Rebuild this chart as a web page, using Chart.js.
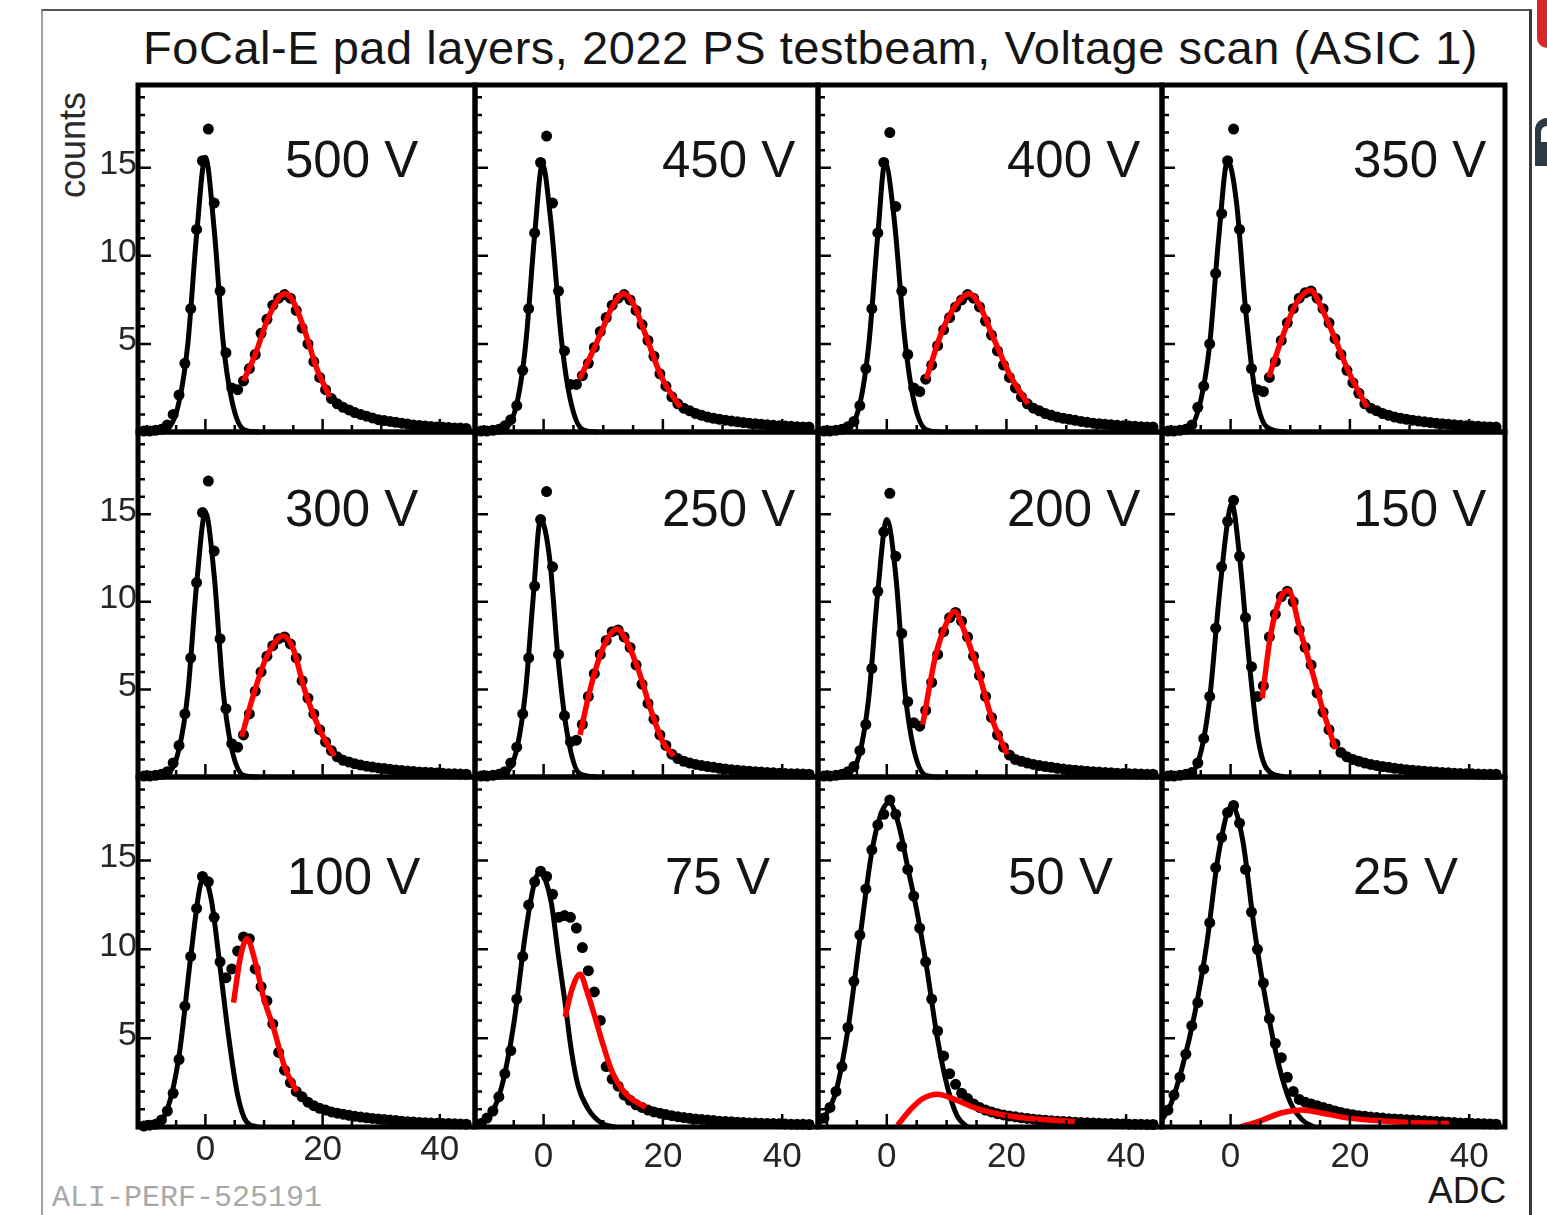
<!DOCTYPE html>
<html>
<head>
<meta charset="utf-8">
<script src="https://cdn.jsdelivr.net/npm/chart.js@4.4.1/dist/chart.umd.min.js"></script>
<style>
  html, body { margin: 0; padding: 0; background: #fff; }
  body { width: 1547px; height: 1215px; position: relative; overflow: hidden; font-family: "Liberation Sans", Arial, sans-serif; }
  canvas { position: absolute; }
  .frame { position: absolute; left: 41px; top: 9px; width: 1486px; height: 1230px;
           border-left: 2px solid #a0a0a0; border-top: 2px solid #555; border-right: 3px solid #3a3a3a; }
  #title { position: absolute; left: 143px; top: 24px; font-size: 47px; line-height: 47px; color: #151515; white-space: nowrap; }
  #ylab { position: absolute; left: 73px; top: 145px; font-size: 36px; line-height: 36px; color: #2a2a2a;
          transform: translate(-50%, -50%) rotate(-90deg); white-space: nowrap; }
  #xlab { position: absolute; left: 1428px; top: 1172px; font-size: 37px; line-height: 37px; color: #1a1a1a; }
  #tag { position: absolute; left: 52px; top: 1183px; font-family: "Liberation Mono", monospace; font-size: 30px;
         line-height: 30px; color: #a8a8a8; white-space: nowrap; }
  .red { position: absolute; left: 1537px; top: 0; width: 12px; height: 48px; background: #d62a2a; border-bottom-left-radius: 10px; }
  .glyph { position: absolute; left: 1535px; top: 118px; width: 14px; height: 48px; background: #2d3943; border-top-left-radius: 12px; }
  .glyph:after { content: ""; position: absolute; left: 6px; top: 8px; width: 8px; height: 16px; background: #fff; border-top-left-radius: 6px; }
</style>
</head>
<body>
<div class="frame"></div>
<div class="red"></div>
<div class="glyph"></div>
<div id="title">FoCal-E pad layers, 2022 PS testbeam, Voltage scan (ASIC 1)</div>
<div id="ylab">counts</div>
<div id="xlab">ADC</div>
<div id="tag">ALI-PERF-525191</div>
<script>
// ---- data ----
const adcBins = [-10.5, -9.5, -8.5, -7.5, -6.5, -5.5, -4.5, -3.5, -2.5, -1.5,
  -0.5, 0.5, 1.5, 2.5, 3.5, 4.5, 5.5, 6.5, 7.5, 8.5,
  9.5, 10.5, 11.5, 12.5, 13.5, 14.5, 15.5, 16.5, 17.5, 18.5,
  19.5, 20.5, 21.5, 22.5, 23.5, 24.5, 25.5, 26.5, 27.5, 28.5,
  29.5, 30.5, 31.5, 32.5, 33.5, 34.5, 35.5, 36.5, 37.5, 38.5,
  39.5, 40.5, 41.5, 42.5, 43.5, 44.5];

const voltages = ["500 V", "450 V", "400 V", "350 V", "300 V", "250 V", "200 V", "150 V", "100 V", "75 V", "50 V", "25 V"];
const yTickLabels = [5, 10, 15];
const xTickLabels = [0, 20, 40];

const counts500 = [0.05, 0.05, 0.1, 0.15, 0.4, 1.0, 2.1, 3.9, 7.0, 11.5,
  15.4, 17.2, 13.0, 8.0, 4.5, 2.5, 2.4, 2.9, 3.6, 4.4,
  5.6, 6.4, 7.2, 7.6, 7.8, 7.6, 6.9, 5.9, 5.0, 4.0,
  3.1, 2.4, 1.9, 1.6, 1.4, 1.25, 1.1, 1.0, 0.9, 0.8,
  0.7, 0.65, 0.6, 0.55, 0.5, 0.45, 0.4, 0.37, 0.34, 0.31,
  0.29, 0.27, 0.25, 0.23, 0.22, 0.2];
const counts450 = [0.05, 0.05, 0.1, 0.15, 0.35, 0.7, 1.5, 3.5, 7.0, 11.3,
  15.3, 16.8, 13.0, 8.0, 4.6, 2.7, 2.7, 3.2, 3.9, 4.8,
  5.7, 6.5, 7.2, 7.6, 7.8, 7.5, 6.9, 6.1, 5.2, 4.3,
  3.3, 2.6, 2.0, 1.6, 1.35, 1.2, 1.05, 0.95, 0.85, 0.78,
  0.72, 0.67, 0.62, 0.58, 0.54, 0.5, 0.47, 0.44, 0.41, 0.38,
  0.36, 0.34, 0.32, 0.3, 0.29, 0.28];
const counts400 = [0.05, 0.05, 0.1, 0.15, 0.3, 0.6, 1.5, 3.6, 7.0, 11.3,
  15.3, 17.0, 12.8, 8.0, 4.4, 2.5, 2.3, 3.0, 3.8, 4.9,
  5.8, 6.5, 7.1, 7.5, 7.8, 7.6, 7.1, 6.3, 5.5, 4.6,
  3.8, 3.1, 2.5, 2.0, 1.6, 1.35, 1.2, 1.05, 0.95, 0.85,
  0.78, 0.72, 0.66, 0.6, 0.55, 0.5, 0.47, 0.44, 0.41, 0.38,
  0.36, 0.34, 0.32, 0.3, 0.29, 0.28];
const counts350 = [0.05, 0.05, 0.1, 0.15, 0.4, 1.4, 2.6, 5.0, 9.0, 12.4,
  15.4, 17.2, 11.5, 7.0, 3.6, 2.4, 2.3, 3.1, 4.0, 5.2,
  6.2, 7.0, 7.6, 7.9, 8.0, 7.6, 7.0, 6.2, 5.3, 4.4,
  3.5, 2.8, 2.2, 1.6, 1.35, 1.2, 1.05, 0.95, 0.85, 0.78,
  0.72, 0.67, 0.62, 0.58, 0.54, 0.5, 0.47, 0.44, 0.41, 0.38,
  0.36, 0.34, 0.32, 0.3, 0.29, 0.28];
const counts300 = [0.05, 0.05, 0.1, 0.15, 0.3, 0.8, 1.8, 3.6, 6.8, 11.1,
  15.1, 16.9, 12.9, 7.9, 3.9, 1.9, 1.7, 2.4, 3.6, 4.9,
  6.0, 6.9, 7.5, 7.9, 8.0, 7.6, 6.8, 5.5, 4.5, 3.6,
  2.7, 2.0, 1.5, 1.15, 0.95, 0.85, 0.75, 0.68, 0.62, 0.57,
  0.52, 0.48, 0.44, 0.4, 0.37, 0.34, 0.31, 0.29, 0.27, 0.25,
  0.23, 0.21, 0.19, 0.18, 0.17, 0.16];
const counts250 = [0.05, 0.05, 0.1, 0.15, 0.3, 0.8, 1.7, 3.6, 6.8, 10.9,
  14.7, 16.3, 12.0, 7.0, 3.5, 2.0, 2.1, 3.0, 4.6, 5.9,
  7.0, 7.8, 8.3, 8.4, 8.0, 7.4, 6.4, 5.3, 4.2, 3.3,
  2.4, 1.8, 1.3, 1.05, 0.9, 0.8, 0.72, 0.65, 0.6, 0.55,
  0.5, 0.46, 0.42, 0.39, 0.36, 0.33, 0.3, 0.28, 0.26, 0.24,
  0.22, 0.2, 0.19, 0.18, 0.17, 0.16];
const counts200 = [0.05, 0.05, 0.1, 0.15, 0.3, 0.6, 1.5, 3.0, 6.2, 10.6,
  14.0, 16.2, 12.6, 8.2, 4.3, 3.1, 2.9, 3.8, 5.4, 7.0,
  8.3, 9.1, 9.4, 8.9, 8.0, 6.9, 5.8, 4.6, 3.4, 2.4,
  1.7, 1.25, 1.0, 0.9, 0.8, 0.72, 0.65, 0.6, 0.55, 0.5,
  0.46, 0.42, 0.39, 0.36, 0.33, 0.3, 0.28, 0.26, 0.24, 0.22,
  0.2, 0.19, 0.18, 0.17, 0.16, 0.15];
const counts150 = [0.05, 0.05, 0.1, 0.15, 0.25, 0.8, 2.2, 4.6, 8.5, 12.0,
  14.6, 15.8, 12.6, 9.1, 6.3, 4.6, 5.2, 8.0, 9.3, 10.3,
  10.6, 10.0, 8.4, 7.4, 6.4, 4.8, 3.7, 2.7, 1.9, 1.4,
  1.15, 1.0, 0.9, 0.8, 0.72, 0.65, 0.6, 0.55, 0.5, 0.46,
  0.42, 0.39, 0.36, 0.33, 0.3, 0.28, 0.26, 0.24, 0.22, 0.2,
  0.19, 0.18, 0.17, 0.16, 0.15, 0.15];
const counts100 = [0.05, 0.1, 0.15, 0.4, 0.9, 1.9, 3.8, 6.8, 9.6, 12.3,
  14.1, 13.8, 11.8, 9.3, 8.4, 8.9, 9.9, 10.7, 10.6, 8.9,
  7.9, 7.1, 5.8, 4.2, 3.2, 2.5, 2.0, 1.7, 1.4, 1.2,
  1.05, 0.95, 0.85, 0.78, 0.72, 0.66, 0.6, 0.56, 0.52, 0.48,
  0.45, 0.42, 0.39, 0.36, 0.33, 0.3, 0.28, 0.26, 0.24, 0.22,
  0.21, 0.2, 0.19, 0.18, 0.17, 0.16];
const counts75 = [0.2, 0.5, 0.9, 1.7, 3.0, 4.3, 7.2, 9.6, 12.5, 13.8,
  14.4, 14.1, 13.1, 11.8, 11.9, 11.8, 11.2, 10.1, 8.8, 7.6,
  6.0, 3.4, 2.7, 2.3, 1.8, 1.5, 1.25, 1.1, 0.95, 0.85,
  0.78, 0.7, 0.64, 0.58, 0.53, 0.49, 0.45, 0.42, 0.39, 0.36,
  0.33, 0.31, 0.29, 0.27, 0.25, 0.23, 0.22, 0.21, 0.2, 0.19,
  0.18, 0.17, 0.16, 0.15, 0.15, 0.14];
const counts50 = [0.5, 1.1, 2.0, 3.4, 5.6, 8.2, 10.8, 13.4, 15.6, 17.0,
  17.6, 18.4, 17.6, 15.8, 14.5, 13.0, 11.2, 9.3, 7.2, 5.4,
  4.0, 3.0, 2.4, 1.9, 1.6, 1.3, 1.1, 0.95, 0.85, 0.75,
  0.68, 0.62, 0.57, 0.52, 0.48, 0.44, 0.41, 0.38, 0.35, 0.33,
  0.31, 0.29, 0.27, 0.25, 0.24, 0.22, 0.21, 0.2, 0.19, 0.18,
  0.17, 0.16, 0.15, 0.15, 0.14, 0.14];
const counts25 = [0.95, 1.8, 2.8, 4.1, 5.7, 7.0, 8.9, 11.5, 14.6, 16.3,
  17.7, 18.1, 17.1, 14.5, 12.1, 10.0, 8.1, 6.1, 4.7, 3.9,
  2.8, 2.0, 1.55, 1.4, 1.3, 1.2, 1.1, 1.0, 0.9, 0.82,
  0.75, 0.69, 0.64, 0.6, 0.56, 0.53, 0.5, 0.47, 0.45, 0.43,
  0.41, 0.39, 0.37, 0.35, 0.33, 0.31, 0.29, 0.27, 0.25, 0.23,
  0.21, 0.2, 0.19, 0.18, 0.17, 0.16];

// pedestal fits (black) and signal fits (red), [ADC, counts]
const pedFit500 = [[-11.5, 0], [-6.5, 0.2], [-4.5, 1.7], [-3, 5], [-1.5, 11.2], [0, 15.6], [1.5, 11.5], [3, 5.2], [4.5, 1.8], [6.5, 0.15], [9, 0]];
const sigFit500 = [[6.5, 2.9], [8.5, 4.4], [10.5, 6.3], [12.5, 7.6], [13.7, 7.85], [15, 7.4], [17, 5.7], [19, 3.6], [21.2, 2.0]];
const pedFit450 = [[-11.5, 0], [-6.5, 0.2], [-4.5, 1.6], [-3, 5], [-1.5, 11.2], [-0.2, 15.2], [1.2, 12], [3, 5.2], [4.5, 1.8], [6.5, 0.15], [9, 0]];
const sigFit450 = [[6, 3.0], [8, 4.4], [9.7, 5.7], [11.5, 7.1], [13.4, 7.85], [15, 7.3], [17, 5.6], [19.8, 3.1], [22.9, 1.4]];
const pedFit400 = [[-11.5, 0], [-6.5, 0.2], [-4.5, 1.6], [-3, 5], [-1.5, 11.2], [-0.3, 15.3], [1.2, 12.2], [3, 5.3], [4.5, 1.8], [6.5, 0.15], [9, 0]];
const sigFit400 = [[6.6, 3.0], [9.1, 5.6], [11.5, 7.2], [13.8, 7.85], [15.5, 7.2], [17.5, 5.6], [20.8, 3.1], [23.6, 1.6]];
const pedFit350 = [[-11.5, 0], [-7, 0.2], [-5, 1.8], [-3.5, 5], [-2, 11], [-0.5, 15.4], [1, 13], [2.5, 7], [4, 2.5], [6, 0.3], [9, 0]];
const sigFit350 = [[6.4, 3.1], [8.9, 5.6], [11, 7.3], [13.4, 8.05], [15.3, 7.0], [17.5, 5.3], [19.8, 3.4], [22.9, 1.4]];
const pedFit300 = [[-11.5, 0], [-6.5, 0.2], [-4.5, 1.6], [-3, 4.8], [-1.5, 11], [0, 15.1], [1.5, 11.5], [3, 5], [4.5, 1.6], [6.5, 0.1], [9, 0]];
const sigFit300 = [[6.2, 2.3], [8.2, 4.7], [10.5, 6.9], [13.3, 8.05], [15, 7.3], [16.9, 5.0], [19.5, 2.7], [22, 1.2]];
const pedFit250 = [[-11.5, 0], [-6.5, 0.2], [-4.5, 1.6], [-3, 5], [-1.8, 10], [-0.5, 14.7], [1, 12.5], [2.5, 6.5], [4, 2.4], [6, 0.2], [9, 0]];
const sigFit250 = [[6.1, 2.4], [7.8, 5.0], [10, 7.4], [12.3, 8.45], [14, 7.7], [16, 6.0], [18, 3.8], [20, 2.0], [21.8, 1.2]];
const pedFit200 = [[-11.5, 0], [-6.5, 0.2], [-4.5, 1.4], [-3, 4.6], [-1.5, 10.6], [0, 14.7], [1.5, 11.5], [3, 5], [4.5, 1.6], [6.5, 0.1], [9, 0]];
const sigFit200 = [[6, 3.0], [8.2, 7.0], [10, 8.8], [11.3, 9.45], [13, 8.3], [15.3, 6.0], [17.6, 3.3], [20.1, 1.3]];
const pedFit150 = [[-11.5, 0], [-7, 0.1], [-5, 1.4], [-3.5, 4.5], [-2, 10], [-0.5, 14.6], [0.2, 15.6], [1.5, 12.6], [3, 7], [4.5, 2.4], [6, 0.5], [9, 0]];
const sigFit150 = [[5.3, 4.5], [6.7, 8.1], [8.3, 10.2], [9.7, 10.65], [11.7, 8.3], [13.7, 6.0], [15.4, 3.9], [17.6, 1.6]];
const pedFit100 = [[-11.5, 0], [-8.5, 0.2], [-6.5, 1.0], [-4.5, 4], [-2.5, 9.6], [-1, 13.4], [-0.3, 14.05], [1, 12.8], [2.5, 9], [4, 5], [5.5, 1.8], [7, 0.3], [9, 0]];
const sigFit100 = [[4.8, 7.0], [6, 9.6], [7.1, 10.6], [8.5, 9.3], [10, 7.2], [11.6, 5.6], [13.5, 3.4], [15.6, 2.0]];
const pedFit75 = [[-11.5, 0.05], [-9, 0.6], [-7, 2.3], [-5, 5.8], [-3, 11], [-1.5, 13.8], [-0.6, 14.35], [0.3, 13.9], [1.3, 12.6], [2.5, 9.6], [3.6, 7.0], [4.7, 4.2], [5.8, 2.3], [7.5, 1.0], [9.8, 0.2], [12, 0]];
const sigFit75 = [[3.6, 6.2], [4.8, 7.8], [6.1, 8.6], [7.3, 7.6], [8.6, 6.2], [10, 4.6], [11.5, 3.1], [13.7, 1.9], [17.1, 1.1]];
const pedFit50 = [[-11.5, 0.15], [-10.5, 0.5], [-8.5, 2.0], [-6.5, 5.5], [-4.5, 10.6], [-2.5, 15.5], [-1, 17.6], [0.4, 18.25], [2, 17.0], [3.5, 14.6], [5, 12.2], [6.7, 8.9], [8.4, 5.1], [10.1, 2.3], [11.8, 0.6], [13.5, 0]];
const sigFit50 = [[1.8, 0.1], [4, 1.0], [6, 1.6], [8.5, 1.85], [11, 1.6], [15, 1.05], [20, 0.65], [25, 0.45], [31.4, 0.3]];
const pedFit25 = [[-11.5, 0.4], [-10, 1.3], [-8, 3.5], [-6, 6.4], [-4, 10.3], [-2, 15.4], [0.2, 18.1], [2, 16.2], [4, 11.1], [6, 6.9], [8, 3.6], [10, 1.4], [12, 0.4], [14, 0]];
const sigFit25 = [[1.6, 0], [5, 0.35], [8.6, 0.8], [12, 0.95], [15, 0.8], [19.8, 0.5], [25, 0.35], [30, 0.25], [36.6, 0.2]];

// ---- layout ----
const colEdges = [138, 475, 818, 1162, 1505];
const rowEdges = [85, 432, 777, 1127];
const margin = 60;
// voltage label: left offset, vertical centre (px from panel corner)
const labelOffsets = [[147, 78], [187, 78], [189, 78], [191, 78],
  [147, 80], [187, 80], [189, 80], [191, 80],
  [149, 103], [190, 103], [190, 103], [191, 103]];

const allCounts = [counts500, counts450, counts400, counts350, counts300, counts250, counts200, counts150, counts100, counts75, counts50, counts25];
const allPed = [pedFit500, pedFit450, pedFit400, pedFit350, pedFit300, pedFit250, pedFit200, pedFit150, pedFit100, pedFit75, pedFit50, pedFit25];
const allSig = [sigFit500, sigFit450, sigFit400, sigFit350, sigFit300, sigFit250, sigFit200, sigFit150, sigFit100, sigFit75, sigFit50, sigFit25];

const toXY = (pts) => pts.map((p) => ({ x: p[0], y: p[1] }));

// frame, inward ticks, tick labels and voltage text
const panelDeco = {
  id: "panelDeco",
  afterDatasetsDraw(chart, args, opts) {
    const { ctx, chartArea: a, scales: { x, y } } = chart;
    ctx.save();
    ctx.strokeStyle = "#000";
    ctx.lineWidth = 2.5;
    ctx.beginPath();
    for (let v = 1; v <= 19; v++) {
      const py = y.getPixelForValue(v);
      const len = v % 5 === 0 ? 13 : 7;
      ctx.moveTo(a.left, py);
      ctx.lineTo(a.left + len, py);
    }
    for (let v = -10; v <= 45; v += 5) {
      const px = x.getPixelForValue(v);
      const len = v % 20 === 0 ? 13 : 7;
      ctx.moveTo(px, a.bottom);
      ctx.lineTo(px, a.bottom - len);
    }
    ctx.stroke();
    ctx.lineWidth = 5;
    ctx.strokeRect(a.left, a.top, a.right - a.left, a.bottom - a.top);

    ctx.fillStyle = "#262626";
    if (opts.showY) {
      ctx.font = '34px "Liberation Sans"';
      ctx.textAlign = "right";
      ctx.textBaseline = "middle";
      yTickLabels.forEach((v) => ctx.fillText(String(v), a.left - 1, y.getPixelForValue(v) - 3));
    }
    if (opts.showX) {
      ctx.font = '35px "Liberation Sans"';
      ctx.textAlign = "center";
      ctx.textBaseline = "middle";
      xTickLabels.forEach((v) => ctx.fillText(String(v), x.getPixelForValue(v), a.bottom + opts.xLabelDy));
    }
    ctx.fillStyle = "#141414";
    ctx.font = '51px "Liberation Sans"';
    ctx.textAlign = "left";
    ctx.textBaseline = "middle";
    ctx.fillText(opts.label, a.left + opts.labelOff[0], a.top + opts.labelOff[1]);
    ctx.restore();
  },
};

const clipBox = { left: 2, top: 0, right: 2, bottom: 6 };

voltages.forEach((label, i) => {
  const r = Math.floor(i / 4);
  const c = i % 4;
  const w = colEdges[c + 1] - colEdges[c];
  const h = rowEdges[r + 1] - rowEdges[r];
  const cv = document.createElement("canvas");
  cv.width = w + 2 * margin;
  cv.height = h + 2 * margin;
  cv.style.left = colEdges[c] - margin + "px";
  cv.style.top = rowEdges[r] - margin + "px";
  document.body.appendChild(cv);

  new Chart(cv, {
    type: "scatter",
    data: {
      datasets: [
        {
          data: toXY(allSig[i]),
          showLine: true,
          borderColor: "#ff0000",
          borderWidth: 5.5,
          pointRadius: 0,
          cubicInterpolationMode: "monotone",
          order: 0,
          clip: clipBox,
        },
        {
          data: adcBins.map((xv, k) => ({ x: xv, y: allCounts[i][k] })),
          showLine: false,
          pointRadius: 5.5,
          pointBackgroundColor: "#000",
          pointBorderColor: "#000",
          pointBorderWidth: 0,
          order: 1,
          clip: clipBox,
        },
        {
          data: toXY(allPed[i]),
          showLine: true,
          borderColor: "#000",
          borderWidth: 5,
          pointRadius: 0,
          cubicInterpolationMode: "monotone",
          order: 2,
          clip: clipBox,
        },
      ],
    },
    options: {
      responsive: false,
      animation: false,
      events: [],
      layout: { padding: margin },
      elements: { point: { radius: 5.5 } },
      plugins: {
        legend: { display: false },
        tooltip: { enabled: false },
        panelDeco: {
          label: label,
          labelOff: labelOffsets[i],
          showY: c === 0,
          showX: r === 2,
          xLabelDy: c === 0 ? 23 : 30,
        },
      },
      scales: {
        x: { type: "linear", min: -11.5, max: 46, display: false },
        y: { type: "linear", min: 0, max: 19.7, display: false },
      },
    },
    plugins: [panelDeco],
  });
});

// stretch the title to the width it has in the original
const title = document.getElementById("title");
const mctx = document.createElement("canvas").getContext("2d");
mctx.font = '47px "Liberation Sans"';
const tw = mctx.measureText(title.textContent).width;
title.style.letterSpacing = (1335 - tw) / title.textContent.length + "px";
</script>
</body>
</html>
